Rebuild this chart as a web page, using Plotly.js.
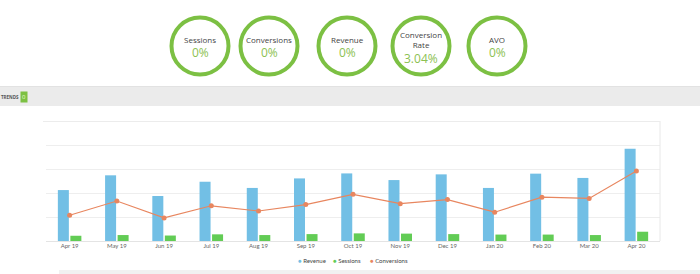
<!DOCTYPE html>
<html>
<head>
<meta charset="utf-8">
<script src="https://cdn.plot.ly/plotly-3.0.1.min.js"></script>
<style>
html,body{margin:0;padding:0;background:#fff;}
#chart{width:700px;height:274px;}
</style>
</head>
<body>
<div id="chart"></div>
<script>
const categories = ['Apr 19','May 19','Jun 19','Jul 19','Aug 19','Sep 19','Oct 19','Nov 19','Dec 19','Jan 20','Feb 20','Mar 20','Apr 20'];
const revenue = [2.14,2.76,1.89,2.49,2.23,2.63,2.84,2.56,2.80,2.23,2.83,2.65,3.88];
const sessions = [0.22,0.25,0.23,0.28,0.25,0.29,0.32,0.31,0.29,0.27,0.27,0.25,0.39];
const conversions = [1.08,1.68,0.97,1.48,1.26,1.53,1.96,1.57,1.74,1.21,1.84,1.79,2.94];
const seriesNames = ['Revenue','Sessions','Conversions'];
const seriesColors = ['#72bfe5','#62cc55','#e8865f'];
const kpiLabels = ['Sessions','Conversions','Revenue','Conversion<br>Rate','AVO'];
const kpiValues = ['0%','0%','0%','3.04%','0%'];
const sectionTitle = 'TRENDS';
const sectionBadge = '0';

const W = 700, H = 274;
const px = x => x / W;
const py = y => (H - y) / H;

const traces = [
  {type:'bar', name:seriesNames[0], x:categories, y:revenue, marker:{color:seriesColors[0]}, showlegend:false, hoverinfo:'skip'},
  {type:'bar', name:seriesNames[1], x:categories, y:sessions, marker:{color:seriesColors[1]}, showlegend:false, hoverinfo:'skip'},
  {type:'scatter', mode:'lines+markers', name:seriesNames[2], x:categories, y:conversions,
   line:{color:seriesColors[2], width:1.2}, marker:{color:seriesColors[2], size:5}, showlegend:false, hoverinfo:'skip'}
];

const shapes = [];
const annotations = [];
// top gray band
shapes.push({type:'rect', xref:'paper', yref:'paper', x0:0, x1:1, y0:py(106), y1:py(86), fillcolor:'#ebebeb', line:{width:0}, layer:'below'});
shapes.push({type:'line', xref:'paper', yref:'paper', x0:0, x1:1, y0:py(86.5), y1:py(86.5), line:{color:'#e2e2e2', width:1}});
// bottom gray strip
shapes.push({type:'rect', xref:'paper', yref:'paper', x0:px(59), x1:1, y0:0, y1:py(270), fillcolor:'#f1f1f1', line:{width:0}, layer:'below'});
// plot right border and top line
shapes.push({type:'line', xref:'paper', yref:'paper', x0:px(660), x1:px(660), y0:py(241), y1:py(121), line:{color:'#e8e8e8', width:1}});
shapes.push({type:'line', xref:'paper', yref:'paper', x0:px(43), x1:px(660), y0:py(121.5), y1:py(121.5), line:{color:'#ececec', width:1}});

// KPI circles
const kpiCx = [200, 269, 347, 421, 497];
const cy = 46, r = 28.5;
const txt = (x, y, t, size, color) => annotations.push({xref:'paper', yref:'paper', x:px(x), y:py(y), text:t, showarrow:false,
  xanchor:'center', yanchor:'middle', borderpad:0, font:{family:'Open Sans, sans-serif', size:size, color:color}});
kpiLabels.forEach((lab, i) => {
  const cx = kpiCx[i];
  shapes.push({type:'circle', xref:'paper', yref:'paper', x0:px(cx-r), x1:px(cx+r), y0:py(cy+r), y1:py(cy-r),
    line:{color:'#7cc043', width:4}, fillcolor:'rgba(0,0,0,0)'});
  if (lab.indexOf('<br>') >= 0) {
    txt(cx, 39.3, lab, 8, '#444');
    txt(cx, 58.7, kpiValues[i], 12, '#8cc152');
  } else {
    txt(cx, 39, lab, 8, '#444');
    txt(cx, 52, kpiValues[i], 12, '#8cc152');
  }
});

// section title
annotations.push({xref:'paper', yref:'paper', x:0, y:py(96.5), text:'<b>'+sectionTitle+'</b>', showarrow:false,
  xanchor:'left', yanchor:'middle', borderpad:0, font:{family:'Open Sans, sans-serif', size:4.5, color:'#555'}});
annotations.push({xref:'paper', yref:'paper', x:px(24), y:py(96.5), text:sectionBadge, showarrow:false,
  xanchor:'center', yanchor:'middle', bgcolor:'#7cc043', borderpad:1, font:{family:'Open Sans, sans-serif', size:6, color:'#e8ffd8'}});

// legend
const legendX = [299, 334, 371];
seriesNames.forEach((n, i) => {
  annotations.push({xref:'paper', yref:'paper', x:px(legendX[i]-3), y:py(260), showarrow:false, xanchor:'left', yanchor:'middle',
    text:'<span style="color:'+seriesColors[i]+'">●</span> '+n, font:{family:'Lato, sans-serif', size:6, color:'#444'}});
});

const layout = {
  width: W, height: H,
  margin:{l:0, r:0, t:0, b:0, pad:0},
  paper_bgcolor:'#fff', plot_bgcolor:'#fff',
  showlegend:false,
  barmode:'group', bargap:0.47, bargroupgap:0.12,
  xaxis:{type:'category', domain:[px(46), px(660)], range:[-0.5, 12.5], showgrid:false, zeroline:false, showline:false,
    ticks:'', tickfont:{family:'Lato, sans-serif', size:6, color:'#666'}, fixedrange:true},
  yaxis:{domain:[py(241), py(122)], range:[0, 5], dtick:1, showticklabels:false, gridcolor:'#eeeeee', gridwidth:1,
    zeroline:true, zerolinecolor:'#e4e4e4', zerolinewidth:1, showline:false, fixedrange:true},
  shapes: shapes,
  annotations: annotations
};

Plotly.newPlot('chart', traces, layout, {displayModeBar:false, staticPlot:true});
</script>
</body>
</html>
